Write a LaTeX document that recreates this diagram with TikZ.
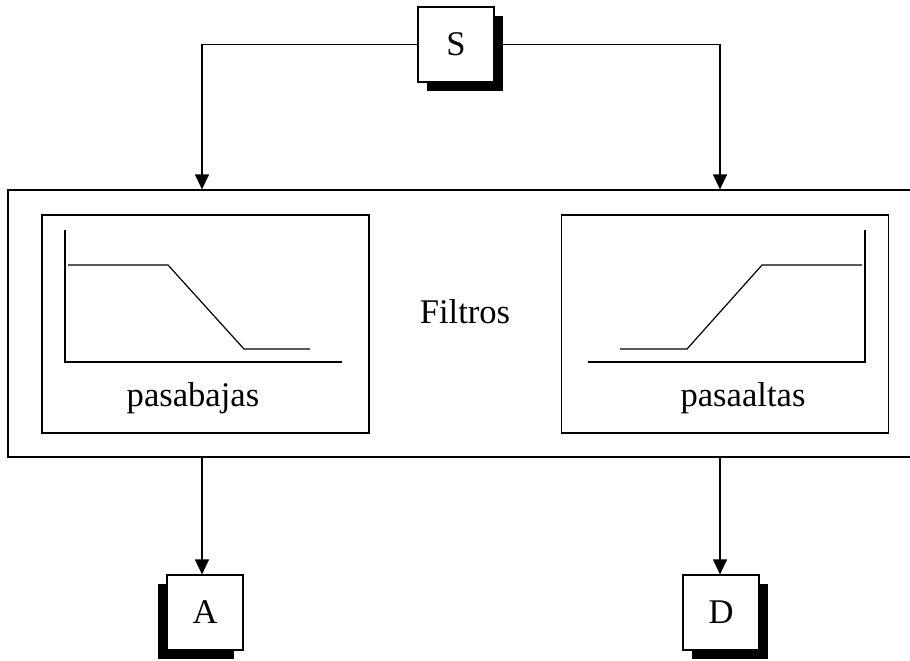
\documentclass[tikz,border=0pt]{standalone}
\usepackage{fontspec}
\setmainfont{Liberation Serif}
\usetikzlibrary{arrows.meta,shadows}

\tikzset{
  blk/.style={draw, fill=white, line width=0.6pt, inner sep=0pt,
    minimum width=38pt, minimum height=37.5pt, font=\fontsize{17.3}{20}\selectfont},
  shR/.style={general shadow={fill=black, shadow xshift=4.5pt, shadow yshift=-4.5pt}},
  shL/.style={general shadow={fill=black, shadow xshift=-4.5pt, shadow yshift=-4.5pt}},
  filtbox/.style={draw, line width=0.6pt, inner sep=0pt,
    minimum width=163.5pt, minimum height=109pt},
  txt/.style={font=\fontsize{17.3}{20}\selectfont, inner sep=0pt},
  conn/.style={-{Triangle[length=7.5pt,width=7pt]}, line width=0.6pt},
  curve/.style={line width=0.6pt}
}

\begin{document}
\begin{tikzpicture}[x=0.5pt, y=-0.5pt]
\useasboundingbox (0,0) rectangle (910,660);
\clip (0,0) rectangle (910,660);

% source and outputs
\node [blk, shR] (S) at (456,44.5) {S};
\node [blk, shL] (A) at (205,612.5) {A};
\node [blk, shR] (D) at (721,612.5) {D};

% filter bank
\node [draw, line width=0.6pt, inner sep=0pt, minimum width=454pt, minimum height=133.5pt] (filt) at (462,323.5) {};
\node [txt] (lbl) at (465,312) {Filtros};
\node [filtbox] (lp) at (205.5,324) {};
\node [filtbox] (hp) at (725,324) {};
\node [txt, anchor=base] (lplbl) at (193,406) {pasabajas};
\node [txt, anchor=base] (hplbl) at (743,406) {pasaaltas};

% low pass
\draw [curve] (65,230) -- (65,362) -- (342,362);
\draw [curve] (68,265) -- (168,265) -- (244,349) -- (310,349);
% high pass
\draw [curve] (865,230) -- (865,362) -- (588,362);
\draw [curve] (620,349) -- (687,349) -- (762,265) -- (862,265);

\coordinate (bl) at (202,0);
\coordinate (br) at (720,0);
\draw [conn] (S.west) -- (S.west -| bl) -- (filt.north -| bl);
\draw [conn] (S.east) -- (S.east -| br) -- (filt.north -| br);
\draw [conn] (filt.south -| bl) -- (A.north -| bl);
\draw [conn] (filt.south -| br) -- (D.north -| br);
\end{tikzpicture}
\end{document}
